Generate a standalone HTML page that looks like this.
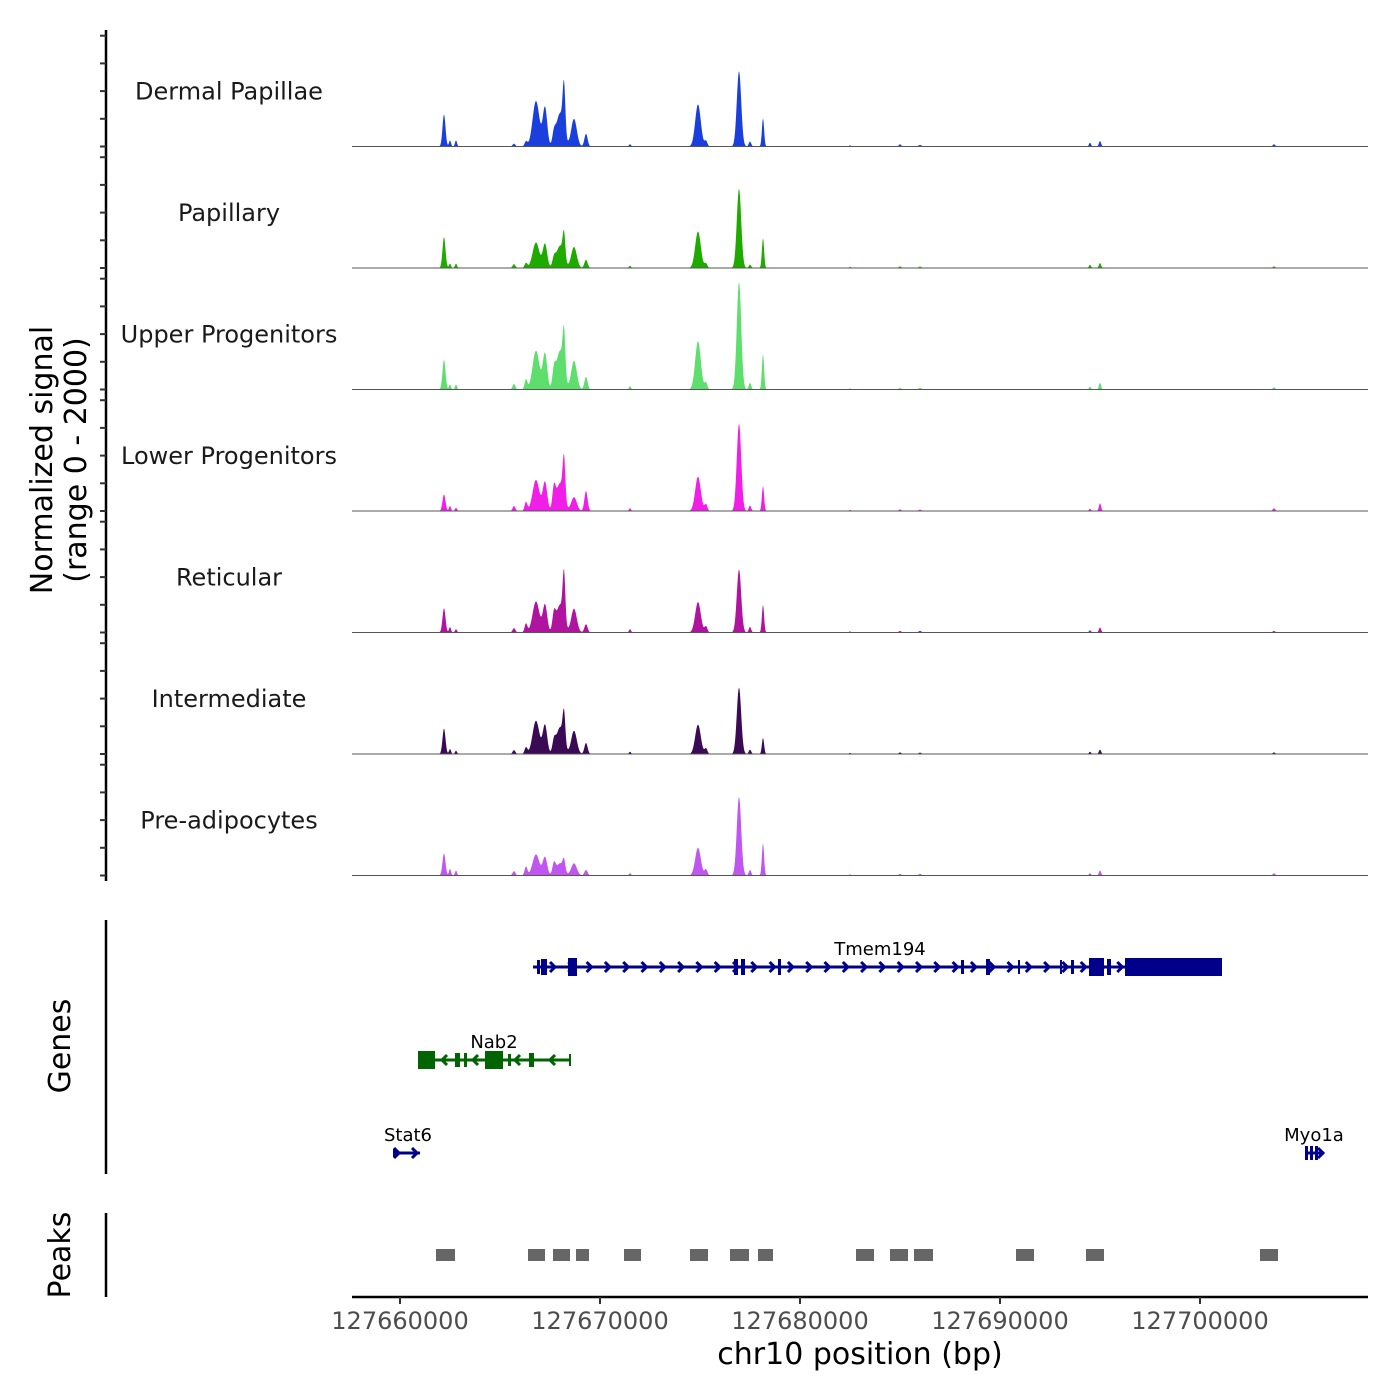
<!DOCTYPE html>
<html><head><meta charset="utf-8"><style>
html,body{margin:0;padding:0;background:#fff;}
svg{display:block;font-family:"DejaVu Sans","Liberation Sans",sans-serif;}
</style></head><body>
<svg id="chart" width="1400" height="1400" viewBox="0 0 1400 1400" xmlns="http://www.w3.org/2000/svg">
<rect width="1400" height="1400" fill="#fff"/>
<g id="tracks"></g>
<g id="yaxis"></g>
<text transform="translate(52,460) rotate(-90)" text-anchor="middle" font-size="30">Normalized signal</text>
<text transform="translate(86,460) rotate(-90)" text-anchor="middle" font-size="30">(range 0 - 2000)</text>
<line x1="106" y1="920" x2="106" y2="1174" stroke="#000" stroke-width="2.5"/>
<text transform="translate(70,1046) rotate(-90)" text-anchor="middle" font-size="30">Genes</text>
<line x1="106" y1="1213" x2="106" y2="1297" stroke="#000" stroke-width="2.5"/>
<text transform="translate(70,1255) rotate(-90)" text-anchor="middle" font-size="30">Peaks</text>
<g id="genes"></g>
<g id="peaks"></g>
<g id="xaxis"></g>
<text x="860" y="1364" text-anchor="middle" font-size="30">chr10 position (bp)</text>
</svg>
<script>
const NS="http://www.w3.org/2000/svg";
// ---- data ----
const trackNames=["Dermal Papillae","Papillary","Upper Progenitors","Lower Progenitors","Reticular","Intermediate","Pre-adipocytes"];
const trackColors=["#1a3fdc","#1faa00","#5ede6c","#f01ee6","#b0149e","#3a0a55","#c055f0"];
// peak centers (bp) and widths (bp, sigma)
const peakCenters=[127662200,127662500,127662800,127665700,127666300,127666800,127667250,127667700,127668000,127668200,127668700,127669300,127671500,127674900,127675300,127676950,127677500,127678150,127682500,127685000,127686000,127694500,127695000,127703700];
const peakWidths=[75,50,50,70,70,170,110,80,180,65,140,80,50,140,70,110,60,55,50,60,70,50,55,60];
const sigDP=[580,110,110,50,90,820,700,200,600,880,500,230,40,760,100,1360,90,510,20,40,30,70,100,40];
const sigPap=[560,80,80,70,90,460,430,150,400,470,380,150,40,660,80,1430,60,540,20,30,25,60,90,30];
const sigUP=[540,90,90,100,180,700,650,300,700,780,520,230,60,870,120,1940,120,640,20,30,30,50,120,40];
const sigLP=[300,90,60,90,160,560,520,380,500,760,250,360,50,620,120,1580,100,450,20,30,25,40,140,50];
const sigRet=[440,100,60,80,160,560,500,300,500,880,430,150,60,550,110,1140,100,500,20,30,30,40,90,30];
const sigInt=[460,90,60,70,120,600,520,200,480,560,420,200,40,530,100,1200,80,290,20,30,25,40,80,30];
const sigPre=[400,120,90,80,160,380,330,200,220,200,220,100,40,500,110,1420,100,580,20,30,30,40,90,40];
const trackSignals=[sigDP,sigPap,sigUP,sigLP,sigRet,sigInt,sigPre];
const peakStarts=[127661800,127666400,127667650,127668800,127671200,127674500,127676500,127677900,127682800,127684500,127685700,127690800,127694300,127703000];
const peakEnds=[127662750,127667250,127668500,127669450,127672050,127675400,127677450,127678650,127683700,127685400,127686650,127691700,127695200,127703900];
const xTicks=[127660000,127670000,127680000,127690000,127700000];
const yTicks=[0,500,1000,1500,2000];
// ---- scales ----
const X0=127657600,X1=127708400,PX0=352,PX1=1368;
const xs=v=>PX0+(v-X0)*(PX1-PX0)/(X1-X0);
const baselines=[146.5,268,389.5,511,632.5,754,875.5];
const ys=(v,i)=>baselines[i]-v*110.8/2000;
function el(tag,attrs,parent){const e=document.createElementNS(NS,tag);for(const k in attrs)e.setAttribute(k,attrs[k]);parent.appendChild(e);return e;}
// ---- tracks ----
const tg=document.getElementById('tracks');
trackNames.forEach((nm,i)=>{
  const sig=trackSignals[i];
  let d="M"+PX0+","+baselines[i];
  for(let px=PX0;px<=PX1;px+=0.5){
    const bp=X0+(px-PX0)*(X1-X0)/(PX1-PX0);
    let v=0;
    for(let k=0;k<peakCenters.length;k++){const z=(bp-peakCenters[k])/peakWidths[k];if(Math.abs(z)<5)v+=sig[k]*Math.exp(-0.5*z*z);}
    d+="L"+px.toFixed(1)+","+ys(v,i).toFixed(2);
  }
  d+="L"+PX1+","+baselines[i]+"Z";
  const p=el('path',{d:d,fill:trackColors[i]},tg);
  
  
  const bl=el('line',{x1:PX0,x2:PX1,y1:baselines[i],y2:baselines[i],stroke:'#555','stroke-width':1},tg);
  
  
  const t=el('text',{x:229,y:baselines[i]-47,'text-anchor':'middle','font-size':24,fill:'#1a1a1a'},tg);
  t.textContent=nm;
  
  
});
// ---- y axis ----
const ya=document.getElementById('yaxis');
const yl=el('line',{x1:106,x2:106,y1:30,y2:881,stroke:'#000','stroke-width':2.5},ya);


baselines.forEach((b,i)=>yTicks.forEach(v=>{
  const t=el('line',{x1:100,x2:106,y1:ys(v,i),y2:ys(v,i),stroke:'#333','stroke-width':2},ya);
  
  
}));
// ---- peaks ----
const pg=document.getElementById('peaks');
peakStarts.forEach((s,i)=>{
  const r=el('rect',{x:xs(s),y:1249,width:xs(peakEnds[i])-xs(s),height:12,fill:'#666'},pg);
  
  
});
// ---- x axis ----
const xa=document.getElementById('xaxis');
el('line',{x1:PX0,x2:PX1,y1:1297,y2:1297,stroke:'#000','stroke-width':2.5},xa);
xTicks.forEach(v=>{
  el('line',{x1:xs(v),x2:xs(v),y1:1297,y2:1304,stroke:'#333','stroke-width':2},xa);
  const t=el('text',{x:xs(v),y:1329,'text-anchor':'middle','font-size':24,fill:'#4d4d4d'},xa);
  t.textContent=v;
  
  
});
// ---- genes ----
const gg=document.getElementById('genes');
function gene(name,col,y,x1,x2,dir,exons,label,lx,ly,chev){
  const g=el('g',{},gg);
  
  
  el('line',{x1:x1,x2:x2,y1:y,y2:y,stroke:col,'stroke-width':3},g);
  chev.forEach(cx=>{
    const d=dir>0?`M${cx-4},${y-5}L${cx+1},${y}L${cx-4},${y+5}`:`M${cx+4},${y-5}L${cx-1},${y}L${cx+4},${y+5}`;
    el('path',{d:d,fill:'none',stroke:col,'stroke-width':3},g);
  });
  exons.forEach(e=>el('rect',{x:e[0],y:y-e[2]/2,width:e[1]-e[0],height:e[2],fill:col},g));
  const t=el('text',{x:lx,y:ly,'text-anchor':'middle','font-size':18,fill:'#000'},g);
  t.textContent=label;
}
const tmChev=[];for(let c=554;c<1122;c+=18.3)tmChev.push(c);
gene('Tmem194','#00008b',967,533,1222,1,[[537,540,14],[541,547,16],[568,577,18],[734,738,16],[741,745,16],[778,781,16],[961,964,14],[986,990,16],[1018,1020,14],[1060,1062,14],[1071,1074,14],[1089,1104,18],[1107,1111,16],[1125,1222,18]],'Tmem194',880,955,tmChev);
gene('Nab2','#006400',1060,418,571,-1,[[418,435,18],[455,460,14],[464,467,14],[485,503,18],[508,511,12],[529,534,14],[569,571,12]],'Nab2',494,1048,[443,474,516,551]);
gene('Stat6','#00008b',1153,393,420,1,[[393,396,8]],'Stat6',408,1141,[398,416]);
gene('Myo1a','#00008b',1153,1306,1324,1,[[1305,1308,14],[1310,1313,14],[1315,1318,14]],'Myo1a',1314,1141,[1322]);
</script>
</body></html>
